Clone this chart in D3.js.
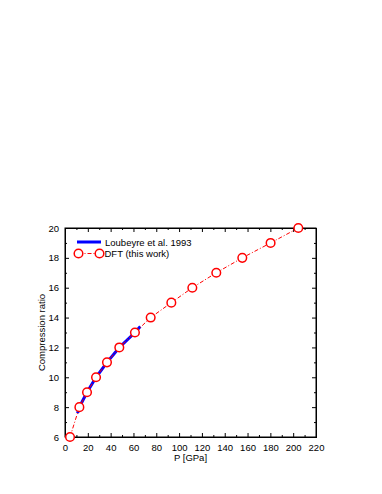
<!DOCTYPE html>
<html><head><meta charset="utf-8">
<script src="https://cdn.jsdelivr.net/npm/d3@7"></script>
<style>body{margin:0;background:#fff}svg{display:block}text{font-family:"Liberation Sans",Arial,sans-serif}</style>
</head><body>
<svg id="c" width="382" height="494"></svg>
<script>
const dftP = [4.4, 12.6, 19.3, 27.2, 36.8, 47.6, 61.3, 75.1, 93.2, 111.6, 132.6, 155.4, 180.2, 204.5];
const dftR = [6, 8, 9, 10, 11, 12, 13, 14, 15, 16, 17, 18, 19, 20];
const expP = [11, 12.6, 19.3, 27.2, 36.8, 47.6, 61.3, 66];
const expR = [7.6, 8, 9, 10, 11, 12, 13, 13.4];
const xTicks = [0,20,40,60,80,100,120,140,160,180,200,220];
const yTicks = [6,8,10,12,14,16,18,20];
const legendLabels = ["Loubeyre et al. 1993", "DFT (this work)"];

const L=65, R=316, T=228, B=437;
const x = d3.scaleLinear().domain([0,220]).range([L,R]);
const y = d3.scaleLinear().domain([6,20]).range([B,T]);
const svg = d3.select("#c");
const fs = 9.5;

// axes
const xMinor = d3.range(0,221,10), yMinor = d3.range(6,20.01,1);
const gx = svg.append("g").attr("transform",`translate(0,${B})`)
  .call(d3.axisBottom(x).tickValues(xTicks).tickSize(-4).tickPadding(7).tickFormat(d3.format("d")));
const gxt = svg.append("g").attr("transform",`translate(0,${T})`)
  .call(d3.axisTop(x).tickValues(xTicks).tickSize(-4).tickFormat(""));
const gy = svg.append("g").attr("transform",`translate(${L},0)`)
  .call(d3.axisLeft(y).tickValues(yTicks).tickSize(-4).tickPadding(6).tickFormat(d3.format("d")));
const gyr = svg.append("g").attr("transform",`translate(${R},0)`)
  .call(d3.axisRight(y).tickValues(yTicks).tickSize(-4).tickFormat(""));
// minor ticks
svg.append("g").attr("transform",`translate(0,${B})`).call(d3.axisBottom(x).tickValues(xMinor.filter(v=>v%20)).tickSize(-2).tickFormat(""));
svg.append("g").attr("transform",`translate(0,${T})`).call(d3.axisTop(x).tickValues(xMinor.filter(v=>v%20)).tickSize(-2).tickFormat(""));
svg.append("g").attr("transform",`translate(${L},0)`).call(d3.axisLeft(y).tickValues(yMinor.filter(v=>v%2)).tickSize(-2).tickFormat(""));
svg.append("g").attr("transform",`translate(${R},0)`).call(d3.axisRight(y).tickValues(yMinor.filter(v=>v%2)).tickSize(-2).tickFormat(""));
svg.selectAll(".domain").attr("stroke","#000").attr("stroke-width",1);
svg.selectAll(".tick line").attr("stroke","#000");
svg.selectAll(".tick text").attr("font-size",fs).attr("fill","#000").style("font-family",'"Liberation Sans",Arial,sans-serif');
svg.append("rect").attr("x",L).attr("y",T).attr("width",R-L).attr("height",B-T).attr("fill","none").attr("stroke","#000");

// labels
svg.append("text").attr("x",(L+R)/2).attr("y",461).attr("text-anchor","middle").attr("font-size",fs).text("P [GPa]");
svg.append("text").attr("transform",`translate(45,${(T+B)/2}) rotate(-90)`).attr("text-anchor","middle").attr("font-size",fs).text("Compression ratio");

// exp line
const line = d3.line().x(d=>x(d[0])).y(d=>y(d[1]));
svg.append("path").datum(expP.map((p,i)=>[p,expR[i]])).attr("d",line)
  .attr("fill","none").attr("stroke","#0000ff").attr("stroke-width",3);
// dft line
const dft = dftP.map((p,i)=>[p,dftR[i]]);
svg.append("path").datum(dft).attr("d",line).attr("fill","none").attr("stroke","#ff0000")
  .attr("stroke-width",1).attr("stroke-dasharray","4,2,1,2");
svg.selectAll("circle.d").data(dft).join("circle").attr("cx",d=>x(d[0])).attr("cy",d=>y(d[1]))
  .attr("r",4.3).attr("fill","#fff").attr("stroke","#ff0000").attr("stroke-width",1.5);

// legend
svg.append("line").attr("x1",77).attr("x2",101).attr("y1",242).attr("y2",242).attr("stroke","#0000ff").attr("stroke-width",3);
svg.append("text").attr("x",105).attr("y",245.5).attr("font-size",fs).text(legendLabels[0]);
svg.append("line").attr("x1",78.5).attr("x2",99.5).attr("y1",253.5).attr("y2",253.5).attr("stroke","#ff0000").attr("stroke-width",1).attr("stroke-dasharray","4,2,1,2");
[78.5,99.5].forEach(cx=>svg.append("circle").attr("cx",cx).attr("cy",253.5).attr("r",4.3).attr("fill","#fff").attr("stroke","#ff0000").attr("stroke-width",1.5));
svg.append("text").attr("x",104.5).attr("y",257).attr("font-size",fs).text(legendLabels[1]);
</script>
</body></html>
